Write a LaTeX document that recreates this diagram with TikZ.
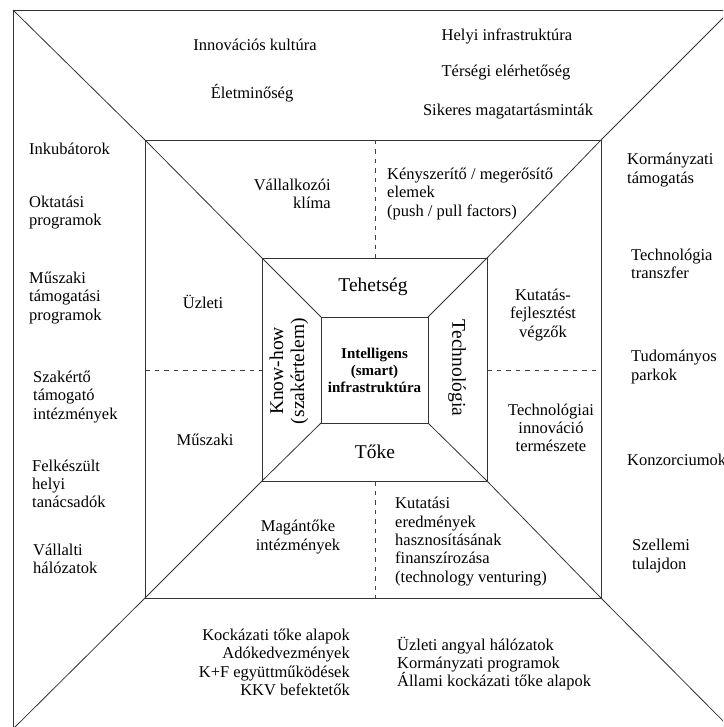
\documentclass[tikz,border=0pt]{standalone}
\usepackage{fontspec}
\setmainfont{Liberation Serif}
\begin{document}
\begin{tikzpicture}[x=1pt,y=-1pt,
  ln/.style={line width=0.8pt, draw=black!80},
  dsh/.style={line width=0.8pt, draw=black!75, dash pattern=on 4.5pt off 5pt},
  txt/.style={font=\fontsize{16.5}{18.3}\selectfont, inner sep=0pt},
  lft/.style={txt, align=left, anchor=west},
  rgt/.style={txt, align=right, anchor=east},
  mid/.style={txt, align=center},
  big/.style={font=\fontsize{19.5}{21}\selectfont, inner sep=0pt, align=center},
  ctr/.style={font=\bfseries\fontsize{15}{17}\selectfont, inner sep=0pt, align=center}]
\useasboundingbox (0,0) rectangle (723,727);
\clip (0,0) rectangle (723,727);
% corners
\coordinate (o1) at (13,10);  \coordinate (o2) at (731,10);
\coordinate (o3) at (731,729); \coordinate (o4) at (13,729);
\coordinate (m1) at (145,140); \coordinate (m2) at (601,140);
\coordinate (m3) at (601,598); \coordinate (m4) at (145,598);
\coordinate (i1) at (262,258); \coordinate (i2) at (487,258);
\coordinate (i3) at (487,481); \coordinate (i4) at (262,481);
\coordinate (c1) at (321,317); \coordinate (c2) at (428,317);
\coordinate (c3) at (428,423); \coordinate (c4) at (321,423);
% dashed ends
\coordinate (dt1) at (375,140); \coordinate (dt2) at (375,258);
\coordinate (db1) at (375,481); \coordinate (db2) at (375,598);
\coordinate (dl1) at (145,370); \coordinate (dl2) at (262,370);
\coordinate (dr1) at (487,370); \coordinate (dr2) at (601,370);
% frames
\draw[ln] (o1) -- (o2) -- (o3) -- (o4) -- cycle;
\draw[ln] (m1) -- (m2) -- (m3) -- (m4) -- cycle;
\draw[ln] (i1) -- (i2) -- (i3) -- (i4) -- cycle;
\draw[ln] (c1) -- (c2) -- (c3) -- (c4) -- cycle;
% diagonals
\draw[ln] (o1) -- (m1) -- (i1) -- (c1);
\draw[ln] (o2) -- (m2) -- (i2) -- (c2);
\draw[ln] (o3) -- (m3) -- (i3) -- (c3);
\draw[ln] (o4) -- (m4) -- (i4) -- (c4);
% dashed dividers
\draw[dsh] (dt1) -- (dt2);
\draw[dsh] (db1) -- (db2);
\draw[dsh] (dl1) -- (dl2);
\draw[dsh] (dr1) -- (dr2);
% outer top
\node[mid] (t1) at (255,45) {Innovációs kultúra};
\node[mid] (t2) at (252,93) {Életminőség};
\node[mid] (t3) at (507,36) {Helyi infrastruktúra};
\node[mid] (t4) at (506,73) {Térségi elérhetőség};
\node[mid] (t5) at (508,112) {Sikeres magatartásminták};
% outer left
\node[lft] (l1) at (29,149) {Inkubátorok};
\node[lft] (l2) at (29,212.5) {Oktatási\\programok};
\node[lft] (l3) at (29,298) {Műszaki\\támogatási\\programok};
\node[lft] (l4) at (33,397) {Szakértő\\támogató\\intézmények};
\node[lft] (l5) at (32,484) {Felkészült\\helyi\\tanácsadók};
\node[lft] (l6) at (33,559) {Vállalti\\hálózatok};
% outer right
\node[lft] (r1) at (627,170) {Kormányzati\\támogatás};
\node[lft] (r2) at (631,264) {Technológia\\transzfer};
\node[lft] (r3) at (631,367) {Tudományos\\parkok};
\node[lft] (r4) at (627,460) {Konzorciumok};
\node[lft] (r5) at (632,556) {Szellemi\\tulajdon};
% outer bottom
\node[rgt] (b1) at (350,662.5) {Kockázati tőke alapok\\Adókedvezmények\\K+F együttműködések\\KKV befektetők};
\node[lft] (b2) at (397,663.5) {Üzleti angyal hálózatok\\Kormányzati programok\\Állami kockázati tőke alapok};
% middle ring
\node[rgt] (mt1) at (331,194) {Vállalkozói\\klíma};
\node[lft] (mt2) at (387,194) {Kényszerítő / megerősítő\\elemek\\(push / pull factors)};
\node[mid] (ml1) at (203,302) {Üzleti};
\node[mid] (ml2) at (205,440) {Műszaki};
\node[mid] (mr1) at (543,315) {Kutatás-\\fejlesztést\\végzők};
\node[mid] (mr2) at (551,428) {Technológiai\\innováció\\természete};
\node[mid] (mb1) at (298,537) {Magántőke\\intézmények};
\node[lft] (mb2) at (395,541.5) {Kutatási\\eredmények\\hasznosításának\\finanszírozása\\(technology venturing)};
% inner ring
\node[big] (it) at (373,287) {Tehetség};
\node[big] (ib) at (375,452) {Tőke};
\node[big, rotate=90] (il) at (289,371) {Know-how\\(szakértelem)};
\node[big, rotate=-90] (ir) at (457,368) {Technológia};
% centre
\node[ctr] (cc) at (374.5,370) {Intelligens\\(smart)\\infrastruktúra};
\end{tikzpicture}
\end{document}
